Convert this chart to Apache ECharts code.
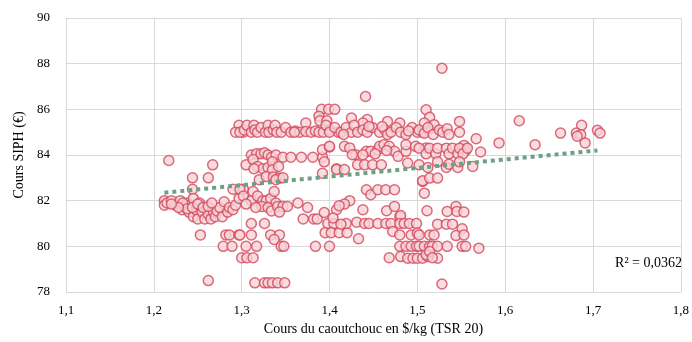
<!DOCTYPE html>
<html><head><meta charset="utf-8">
<script src="https://cdn.jsdelivr.net/npm/echarts@6/dist/echarts.min.js"></script>
<style>html,body{margin:0;padding:0;background:#fff}#c{width:692px;height:342px}</style>
</head><body><div id="c"></div>
<script>
// Observations: [rubber price $/kg (TSR 20), SIPH share price €]
const observations = [
[1.217,83.76],[1.267,83.57],[1.244,83.0],[1.262,83.0],[1.244,82.5],
[1.212,82.0],[1.212,81.8],[1.215,81.9],[1.22,82.0],[1.225,81.8],[1.23,82.0],[1.232,81.6],[1.235,81.75],[1.238,81.9],[1.24,81.5],[1.242,81.8],[1.245,82.1],[1.245,81.3],[1.248,81.6],[1.25,81.2],[1.252,81.9],[1.255,81.5],[1.258,81.2],[1.26,81.65],[1.262,81.4],[1.265,81.2],[1.268,81.5],[1.27,81.3],[1.272,81.55],[1.275,81.7],[1.278,81.3],[1.28,81.95],[1.284,81.5],[1.286,81.7],[1.29,81.6],[1.293,81.8],[1.297,82.1],[1.29,82.5],[1.302,82.5],
[1.233,81.9],[1.238,81.65],[1.244,81.7],[1.25,81.85],[1.256,81.7],[1.262,81.75],[1.266,81.9],[1.228,81.7],[1.22,81.85],
[1.253,80.5],[1.262,78.5],[1.282,80.5],[1.286,80.5],[1.297,80.5],[1.279,80.0],[1.289,80.0],[1.30,79.5],[1.306,79.5],
[1.297,85.3],[1.293,85.0],[1.302,85.0],[1.305,83.57],
[1.391,86.0],[1.399,86.0],[1.406,86.0],[1.388,85.7],[1.389,85.5],[1.397,85.5],[1.373,85.4],
[1.298,85.0],[1.303,85.1],[1.306,85.3],[1.311,85.0],[1.314,85.3],[1.315,85.1],[1.318,85.0],[1.322,85.2],[1.327,85.0],[1.33,85.3],[1.331,85.0],[1.336,85.1],[1.338,85.3],[1.34,85.0],[1.345,85.0],[1.35,85.2],[1.356,85.0],[1.361,85.05],[1.366,85.0],[1.373,85.03],[1.379,85.0],[1.384,85.05],[1.388,85.0],[1.393,85.0],[1.40,85.1],[1.396,85.3],[1.41,85.0],[1.36,85.0],
[1.311,84.0],[1.317,84.05],[1.322,84.05],[1.326,84.1],[1.33,84.0],[1.334,83.9],[1.339,84.0],[1.347,83.9],[1.356,83.9],[1.368,83.9],[1.381,83.9],[1.392,83.9],[1.313,83.8],[1.318,83.5],[1.324,83.4],[1.33,83.45],[1.335,83.7],[1.335,83.35],[1.314,83.4],[1.342,83.5],[1.392,84.23],[1.40,84.35],[1.394,83.7],[1.392,83.2],[1.408,83.4],
[1.32,82.92],[1.328,83.06],[1.336,83.04],[1.343,82.99],[1.339,82.92],[1.347,83.0],
[1.298,82.5],[1.302,82.2],[1.311,82.0],[1.313,82.4],[1.318,82.2],[1.324,82.0],[1.328,82.0],[1.333,82.1],[1.339,81.9],[1.337,82.4],[1.323,81.75],[1.33,81.7],[1.334,81.55],[1.341,81.75],[1.347,81.75],[1.352,81.75],[1.364,81.9],[1.375,81.7],[1.343,81.5],[1.305,81.85],[1.316,81.7],
[1.37,81.2],[1.382,81.2],[1.386,81.2],[1.394,81.48],[1.408,81.6],[1.311,81.0],[1.326,81.0],[1.311,80.5],[1.298,80.5],[1.333,80.5],[1.343,80.5],[1.337,80.3],[1.398,81.0],[1.405,81.0],[1.395,80.6],[1.402,80.6],[1.411,80.6],[1.42,80.6],
[1.305,80.0],[1.317,80.0],[1.345,80.0],[1.348,80.0],[1.384,80.0],[1.40,80.0],[1.313,79.5],
[1.315,78.4],[1.326,78.4],[1.33,78.4],[1.335,78.4],[1.341,78.4],[1.349,78.4],
[1.441,86.56],[1.51,85.98],[1.425,85.62],[1.443,85.55],[1.438,85.4],[1.466,85.47],[1.48,85.4],
[1.40,85.0],[1.406,85.2],[1.413,85.0],[1.419,85.2],[1.425,85.0],[1.428,85.3],[1.432,85.0],[1.438,85.1],[1.443,85.0],[1.449,85.2],[1.457,85.0],[1.463,85.1],[1.466,84.9],[1.47,85.0],[1.476,85.2],[1.481,85.0],[1.487,84.9],[1.494,85.2],[1.50,85.0],[1.506,85.0],[1.512,85.1],[1.416,84.9],[1.445,85.25],[1.46,85.25],[1.49,85.05],
[1.40,84.38],[1.417,84.38],[1.423,84.31],[1.43,84.01],[1.442,84.16],[1.447,84.16],[1.455,84.23],[1.457,84.38],[1.462,84.45],[1.468,84.38],[1.474,84.16],[1.478,83.94],[1.487,84.16],[1.487,84.45],[1.498,84.38],[1.51,84.31],[1.426,84.01],[1.438,84.01],[1.452,84.05],[1.465,84.2],
[1.408,83.36],[1.417,83.36],[1.432,83.57],[1.44,83.57],[1.449,83.57],[1.459,83.57],[1.489,83.65],[1.502,83.57],
[1.506,82.84],[1.508,82.33],[1.442,82.48],[1.447,82.26],[1.455,82.48],[1.464,82.48],[1.474,82.48],
[1.423,82.0],[1.417,81.85],[1.411,81.78],[1.438,81.6],[1.465,81.56],[1.474,81.75],[1.48,81.3],[1.481,81.35],[1.404,81.24],
[1.431,81.06],[1.44,81.0],[1.445,81.0],[1.455,81.0],[1.464,81.0],[1.47,81.0],[1.48,81.0],[1.485,81.0],[1.491,81.0],[1.499,81.0],[1.419,81.0],[1.413,80.97],
[1.472,80.65],[1.48,80.5],[1.493,80.5],[1.50,80.58],[1.433,80.33],
[1.48,80.0],[1.487,80.0],[1.493,80.0],[1.499,80.0],[1.502,80.0],[1.508,80.0],
[1.481,79.55],[1.489,79.48],[1.495,79.48],[1.50,79.48],[1.506,79.48],[1.512,79.55],[1.468,79.5],
[1.528,87.8],[1.514,85.65],[1.508,85.4],[1.519,85.33],
[1.502,85.1],[1.508,84.95],[1.512,85.2],[1.518,84.9],[1.525,85.1],[1.529,85.0],[1.534,85.15],[1.536,84.9],[1.548,85.47],[1.548,85.0],
[1.593,84.53],[1.567,84.71],[1.572,84.13],[1.553,84.42],[1.555,84.19],
[1.502,84.3],[1.51,84.05],[1.514,84.3],[1.521,84.05],[1.523,84.3],[1.533,84.3],[1.536,84.05],[1.54,84.3],[1.546,84.05],[1.548,84.3],[1.552,84.05],[1.557,84.3],
[1.512,83.45],[1.523,83.7],[1.533,83.45],[1.536,83.6],[1.546,83.45],[1.548,83.7],[1.563,83.5],
[1.506,82.87],[1.514,82.99],[1.523,82.99],
[1.511,81.56],[1.534,81.53],[1.544,81.75],[1.545,81.53],[1.553,81.5],
[1.523,80.97],[1.533,80.97],[1.54,80.97],[1.551,80.77],[1.544,80.47],[1.502,80.5],[1.514,80.5],[1.519,80.5],[1.553,80.5],
[1.514,80.0],[1.517,80.0],[1.523,80.0],[1.534,80.0],[1.551,80.0],[1.555,80.0],[1.57,79.92],
[1.51,79.63],[1.523,79.48],[1.514,79.77],[1.517,79.5],
[1.528,78.35],
[1.616,85.5],[1.634,84.45],[1.663,84.96],[1.687,85.3],[1.681,84.96],[1.686,84.89],[1.682,84.82],[1.691,84.53],[1.705,85.08],[1.708,84.96]
];
// Linear trend (Excel) endpoints
const trendX = [1.212, 1.705];
const trendY = [82.35, 84.2];
const rSquaredText = 'R² = 0,0362';
const xTitle = 'Cours du caoutchouc en $/kg (TSR 20)';
const yTitle = 'Cours SIPH (€)';

const FONT = '"Liberation Serif","DejaVu Serif",serif';
const chart = echarts.init(document.getElementById('c'), null, {renderer:'canvas'});
chart.setOption({
  animation:false,
  grid:{left:66,right:10,top:18,bottom:50},
  xAxis:{type:'value',min:1.1,max:1.8,interval:0.1,
    name:xTitle,nameLocation:'middle',nameGap:29,
    nameTextStyle:{fontFamily:FONT,fontSize:14,color:'#000'},
    axisLine:{show:false},axisTick:{show:false},
    splitLine:{show:true,lineStyle:{color:'#d9d9d9',width:1}},
    axisLabel:{fontFamily:FONT,fontSize:13,color:'#000',margin:12,
      formatter:v=>v.toFixed(1).replace('.',',')}},
  yAxis:{type:'value',min:78,max:90,interval:2,
    name:yTitle,nameLocation:'middle',nameGap:39,nameRotate:90,
    nameTextStyle:{fontFamily:FONT,fontSize:14,color:'#000'},
    axisLine:{show:false},axisTick:{show:false},
    splitLine:{show:true,lineStyle:{color:'#d9d9d9',width:1}},
    axisLabel:{fontFamily:FONT,fontSize:13,color:'#000',margin:16}},
  series:[
    {type:'scatter',data:observations,symbol:'circle',symbolSize:10,
     itemStyle:{color:'#f7d3d8',borderColor:'#d2485b',borderWidth:1.5},z:2},
    {type:'line',data:trendX.map((x,i)=>[x,trendY[i]]),symbol:'none',
     lineStyle:{color:'#6f9f84',width:4,type:[4,4]},z:3}
  ],
  graphic:[{type:'text',right:10,top:256,
    style:{text:rSquaredText,font:'14px '+FONT,fill:'#000'}}]
});
</script></body></html>
